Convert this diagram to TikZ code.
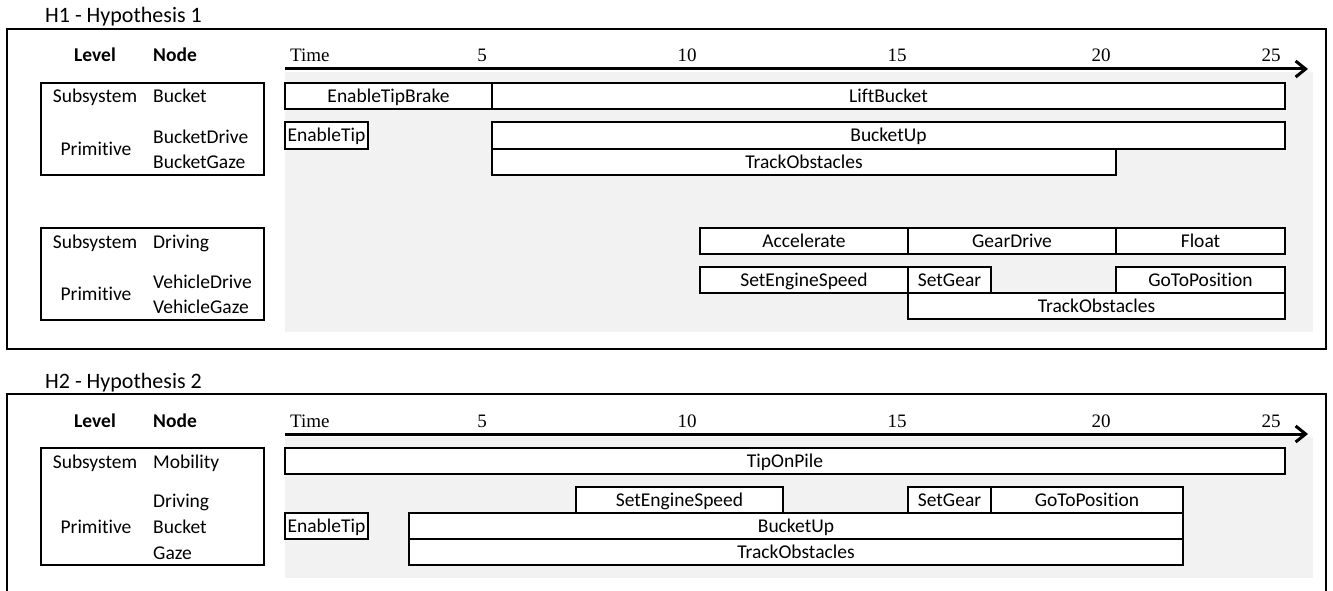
\documentclass[tikz,border=0pt]{standalone}
\usepackage{fontspec}
\setmainfont{Carlito}[Ligatures=NoCommon]
\newfontfamily\axisfont{Liberation Serif}
\usetikzlibrary{arrows.meta}
\definecolor{lanebg}{HTML}{F2F2F2}
\tikzset{
  body/.style={font=\fontsize{19.5}{23}\selectfont},
  task/.style={body, draw=black, line width=1.3pt, fill=white, inner sep=0pt,
    outer sep=0pt, text height=13pt, text depth=0pt},
  lbl/.style={body, inner sep=0pt, anchor=base},
  lblw/.style={body, inner sep=0pt, anchor=base west},
  hdr/.style={lbl, font=\fontsize{19.5}{23}\selectfont\bfseries},
  hdrw/.style={lblw, font=\fontsize{19.5}{23}\selectfont\bfseries},
  title/.style={inner sep=0pt, anchor=base west, font=\fontsize{22}{26}\selectfont},
  ticklbl/.style={inner sep=0pt, anchor=base, font=\axisfont\fontsize{19}{22}\selectfont},
  axis/.style={line width=3pt, -{Straight Barb[length=10pt,width=16pt]}},
  frame/.style={line width=1.6pt},
  levbox/.style={line width=1.3pt},
}
% bar of the schedule: name, left x, right x, top y, bottom y, label
\newcommand\taskbar[6]{%
  \pgfmathsetmacro\tbw{#3-#2}%
  \pgfmathsetmacro\tbh{#5-#4}%
  \node[task, minimum width=\tbw pt, minimum height=\tbh pt] (#1)
    at ({(#2+#3)/2},{(#4+#5)/2}) {#6};}
% time axis with its labels: prefix, axis y, label baseline
\newcommand\timeaxis[3]{%
  \coordinate (#1s) at (285,#2);
  \coordinate (#1e) at (1308,#2);
  \draw[axis] (#1s) -- (#1e);
  \node[ticklbl, anchor=base west] (#1time) at (290,#3) {Time};
  \node[ticklbl] (#1t5) at (482,#3) {5};
  \node[ticklbl] (#1t10) at (687,#3) {10};
  \node[ticklbl] (#1t15) at (897,#3) {15};
  \node[ticklbl] (#1t20) at (1101,#3) {20};
  \node[ticklbl] (#1t25) at (1271,#3) {25};}
\begin{document}
\begin{tikzpicture}[x=1pt,y=-1pt]
\useasboundingbox (0,0) rectangle (1333,591);

%% ---------------- Hypothesis 1 ----------------
\node[title] (h1title) at (45,23) {H1 - Hypothesis 1};
\draw[frame] (7,29) rectangle (1326,349);
\fill[lanebg] (285,72) rectangle (1313,332);

\node[hdr] (h1level) at (95,62) {Level};
\node[hdrw] (h1node) at (153,62) {Node};
\timeaxis{h1ax}{69}{62}

% bucket subsystem
\draw[levbox] (41,83) rectangle (264,175);
\node[lbl] (h1subA) at (95,103) {Subsystem};
\node[lblw] (h1bucket) at (153,103) {Bucket};
\node[lbl] (h1primA) at (96,155) {Primitive};
\node[lblw] (h1bdrive) at (153,143) {BucketDrive};
\node[lblw] (h1bgaze) at (153,168) {BucketGaze};

\taskbar{h1etb}{285}{492}{83}{109}{EnableTipBrake}
\taskbar{h1lift}{492}{1285}{83}{109}{LiftBucket}
\taskbar{h1et}{285}{368}{122}{149}{EnableTip}
\taskbar{h1bup}{492}{1285}{122}{149}{BucketUp}
\taskbar{h1trk}{492}{1116}{149}{175}{TrackObstacles}

% driving subsystem
\draw[levbox] (41,228) rectangle (264,320);
\node[lbl] (h1subB) at (95,248) {Subsystem};
\node[lblw] (h1driving) at (153,248) {Driving};
\node[lbl] (h1primB) at (96,300) {Primitive};
\node[lblw] (h1vdrive) at (153,288) {VehicleDrive};
\node[lblw] (h1vgaze) at (153,313) {VehicleGaze};

\taskbar{h1acc}{700}{908}{228}{254}{Accelerate}
\taskbar{h1gear}{908}{1116}{228}{254}{GearDrive}
\taskbar{h1float}{1116}{1285}{228}{254}{Float}
\taskbar{h1ses}{700}{908}{267}{293}{SetEngineSpeed}
\taskbar{h1sg}{908}{991}{267}{293}{SetGear}
\taskbar{h1gtp}{1116}{1285}{267}{293}{GoToPosition}
\taskbar{h1trkB}{908}{1285}{293}{319}{TrackObstacles}

%% ---------------- Hypothesis 2 ----------------
\node[title] (h2title) at (45,388) {H2 - Hypothesis 2};
\draw[frame] (7,592) -- (7,394) -- (1326,394) -- (1326,592);
\fill[lanebg] (285,437) rectangle (1313,578);

\node[hdr] (h2level) at (95,427) {Level};
\node[hdrw] (h2node) at (153,427) {Node};
\timeaxis{h2ax}{434}{427}

\draw[levbox] (41,448) rectangle (264,565);
\node[lbl] (h2sub) at (95,468) {Subsystem};
\node[lblw] (h2mob) at (153,468) {Mobility};
\node[lbl] (h2prim) at (96,533) {Primitive};
\node[lblw] (h2driving) at (153,507) {Driving};
\node[lblw] (h2bucket) at (153,533) {Bucket};
\node[lblw] (h2gaze) at (153,559) {Gaze};

\taskbar{h2tip}{285}{1285}{448}{474}{TipOnPile}
\taskbar{h2ses}{576}{783}{487}{513}{SetEngineSpeed}
\taskbar{h2sg}{908}{991}{487}{513}{SetGear}
\taskbar{h2gtp}{991}{1183}{487}{513}{GoToPosition}
\taskbar{h2et}{285}{368}{513}{539}{EnableTip}
\taskbar{h2bup}{409}{1183}{513}{539}{BucketUp}
\taskbar{h2trk}{409}{1183}{539}{565}{TrackObstacles}
\end{tikzpicture}
\end{document}
